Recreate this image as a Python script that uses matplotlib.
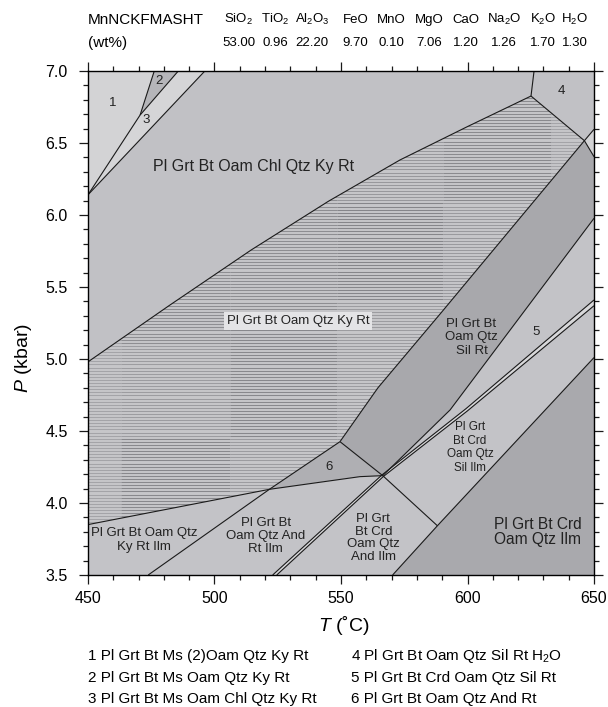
import numpy as np
import matplotlib
matplotlib.use("Agg")
import matplotlib.pyplot as plt
from matplotlib.patches import Polygon
from matplotlib.ticker import MultipleLocator
import matplotlib.transforms as mtransforms

plt.rcParams['font.family'] = ['Liberation Sans', 'DejaVu Sans']
plt.rcParams['mathtext.fontset'] = 'custom'
plt.rcParams['mathtext.rm'] = 'Liberation Sans'
plt.rcParams['mathtext.it'] = 'Liberation Sans:italic'

# --- bulk composition (wt%)
oxides = ['SiO$_2$', 'TiO$_2$', 'Al$_2$O$_3$', 'FeO', 'MnO', 'MgO', 'CaO', 'Na$_2$O', 'K$_2$O', 'H$_2$O']
wt = ['53.00', '0.96', '22.20', '9.70', '0.10', '7.06', '1.20', '1.26', '1.70', '1.30']
oxide_T = [509.5, 523.9, 538.5, 555.8, 569.9, 584.8, 599.3, 614.4, 629.8, 642.3]

# --- field boundary nodes (T degC, P kbar)
A = (450.0, 6.14)
B = (470.6, 6.694)
top_12 = (476.2, 7.0)
top_23 = (485.7, 7.0)
top_3 = (496.2, 7.0)
D = (625.1, 6.826)
top_4 = (626.3, 7.0)
E = (646.2, 6.516)
G = (549.6, 4.426)
H = (521.7, 4.095)
J = (566.5, 4.19)
K = (588.1, 3.842)

ky_upper = [(450.0, 4.98), (482.0, 5.37), (514.5, 5.757), (545.0, 6.095), (573.3, 6.382), (600.0, 6.614), D]
sil_ky = [G, (564.6, 4.80), (590.0, 5.33), (616.8, 5.896), E]
sil_ky_end = (650.0, 6.595)
de_end = (650.0, 6.405)
ilm_line = [(450.0, 3.85), H, (557.5, 4.183), J]
and_ky = [(473.8, 3.5), H, G]
and_sil = [G, J, K]
dbl_a = [(523.0, 3.5), (566.2, 4.195), (599.4, 4.655), (650.0, 5.41)]
dbl_b = [(524.6, 3.5), (566.8, 4.185), (600.0, 4.64), (650.0, 5.37)]
crd_upper = [J, (593.1, 4.646), (620.0, 5.275), (650.0, 5.977)]
crd_ilm = [(570.4, 3.5), K, (650.0, 5.01)]

legend_left = ['1 Pl Grt Bt Ms (2)Oam Qtz Ky Rt', '2 Pl Grt Bt Ms Oam Qtz Ky Rt', '3 Pl Grt Bt Ms Oam Chl Qtz Ky Rt']
legend_right = ['4 Pl Grt Bt Oam Qtz Sil Rt H$_2$O', '5 Pl Grt Bt Crd Oam Qtz Sil Rt', '6 Pl Grt Bt Oam Qtz And Rt']


def poly(*parts):
    pts = []
    for p in parts:
        if isinstance(p, tuple):
            pts.append(p)
        else:
            pts.extend(p)
    return np.array(pts)


def rev(l):
    return l[::-1]


fig = plt.figure(figsize=(6.08, 7.07), dpi=100)
ax = fig.add_axes([0.1447, 0.1867, 0.8323, 0.7129])
ax.set_xlim(450, 650)
ax.set_ylim(3.5, 7.0)
ax.set_facecolor('#d8d8da')

fields = [
    (poly(ky_upper[0], A, top_3, top_4, rev(ky_upper)), '#c1c1c5'),
    (poly((450.0, 7.0), A, B, top_12), '#d3d3d5'),
    (poly(B, top_12, top_23), '#b5b5b9'),
    (poly(A, B, top_23, top_3), '#d5d5d7'),
    (poly(top_4, (650.0, 7.0), sil_ky_end, E, D), '#c1c1c5'),
    (poly(E, sil_ky_end, de_end), '#d3d3d5'),
    (poly(sil_ky, de_end, rev(crd_upper)), '#a8a8ac'),
    (poly(H, G, J, (557.5, 4.183)), '#afafb3'),
    (poly(crd_upper, rev(dbl_a[1:])), '#c3c3c7'),
    (poly(dbl_b[1:], rev(crd_ilm)[:2], J), '#c3c3c7'),
    (poly(dbl_b[:2], J, K, crd_ilm[0]), '#c3c3c7'),
    (poly(crd_ilm, (650.0, 3.5)), '#a9a9ad'),
    (poly(and_ky[0], H, (557.5, 4.183), J, rev(dbl_a[:2])), '#c3c3c7'),
    (poly((450.0, 3.5), ilm_line[0], H, and_ky[0]), '#c3c3c7'),
]
for pts, c in fields:
    ax.add_patch(Polygon(pts, closed=True, facecolor=c, edgecolor='none', zorder=1))

# kyanite field with the striped fill
ky_pts = poly(ilm_line[:2], sil_ky, rev(ky_upper))
ky_patch = Polygon(ky_pts, closed=True, facecolor='#c6c6c9', edgecolor='none', zorder=1)
ax.add_patch(ky_patch)

tiles = [
    (450, 463, 3.5, 7.0, '#a4a4a8'),
    (463, 506, 3.5, 4.45, '#88888c'), (463, 506, 4.45, 5.1, '#9c9ca0'), (463, 506, 5.1, 7.0, '#8e8e92'),
    (506, 548.5, 3.5, 4.45, '#9c9ca0'), (506, 548.5, 4.45, 5.25, '#88888c'), (506, 548.5, 5.25, 7.0, '#8e8e92'),
    (548.5, 590.5, 3.5, 5.4, '#9c9ca0'), (548.5, 590.5, 5.4, 6.1, '#86868a'), (548.5, 590.5, 6.1, 7.0, '#98989c'),
    (590.5, 633, 3.5, 6.1, '#9a9a9e'), (590.5, 633, 6.1, 7.0, '#8a8a8e'),
    (633, 650, 3.5, 7.0, '#a4a4a8'),
]
rows = np.arange(3.5, 7.0, 0.0215)
for t0, t1, p0, p1, c in tiles:
    r = rows[(rows >= p0) & (rows < p1)]
    lc = ax.hlines(r, t0, t1, colors=c, lw=0.75, zorder=2)
    lc.set_clip_path(ky_patch)

lines = [
    [A, B], [B, top_12], [B, top_23], [A, top_3], ky_upper, [D, top_4],
    [D, E, de_end], sil_ky + [sil_ky_end], ilm_line, and_ky, and_sil,
    dbl_a, dbl_b, crd_upper, crd_ilm,
]
for ln in lines:
    arr = np.array(ln)
    ax.plot(arr[:, 0], arr[:, 1], color='#1a1a1a', lw=0.8, zorder=3, solid_capstyle='butt')

# field labels
lab = dict(ha='center', va='center', color='#222222', zorder=4)
ax.text(459.8, 6.78, '1', fontsize=9.5, **lab)
ax.text(477.9, 6.93, '2', fontsize=9.5, **lab)
ax.text(472.9, 6.66, '3', fontsize=9.5, **lab)
ax.text(637.2, 6.86, '4', fontsize=9.5, **lab)
ax.text(627.0, 5.185, '5', fontsize=9.5, **lab)
ax.text(545.4, 4.252, '6', fontsize=9.5, **lab)
ax.text(475.8, 6.34, 'Pl Grt Bt Oam Chl Qtz Ky Rt', fontsize=11.5, ha='left', va='center',
        color='#222222', zorder=4)
ax.text(533.0, 5.265, 'Pl Grt Bt Oam Qtz Ky Rt', fontsize=9.5,
        bbox=dict(facecolor='#e4e4e6', edgecolor='none', pad=2.0), **lab)
ax.text(601.6, 5.15, 'Pl Grt Bt\nOam Qtz\nSil Rt', fontsize=9.5, linespacing=1.2, **lab)
ax.text(601.0, 4.385, 'Pl Grt\nBt Crd\nOam Qtz\nSil Ilm', fontsize=8.5, linespacing=1.2, **lab)
ax.text(562.8, 3.757, 'Pl Grt\nBt Crd\nOam Qtz\nAnd Ilm', fontsize=9.5, linespacing=1.1, **lab)
ax.text(627.6, 3.80, 'Pl Grt Bt Crd\nOam Qtz Ilm', fontsize=11.2, linespacing=1.0, **lab)
ax.text(520.2, 3.771, 'Pl Grt Bt\nOam Qtz And\nRt Ilm', fontsize=9.5, linespacing=1.15, **lab)
ax.text(472.3, 3.743, 'Pl Grt Bt Oam Qtz\nKy Rt Ilm', fontsize=9.5, linespacing=1.15, **lab)

# axes styling
ax.xaxis.set_major_locator(MultipleLocator(50))
ax.xaxis.set_minor_locator(MultipleLocator(10))
ax.yaxis.set_major_locator(MultipleLocator(0.5))
ax.yaxis.set_minor_locator(MultipleLocator(0.1))
ax.yaxis.set_major_formatter(matplotlib.ticker.FormatStrFormatter('%.1f'))
ax.tick_params(which='both', direction='out', top=True, right=True, width=0.9, color='#1a1a1a')
ax.tick_params(which='major', length=6.5, labelsize=11.5)
ax.tick_params(which='minor', length=3.6)
ax.tick_params(axis='x', which='major', pad=5)
ax.tick_params(axis='y', which='major', pad=8)
for s in ax.spines.values():
    s.set_linewidth(1.0)
    s.set_zorder(5)

ax.set_xlabel('$T$ (˚C)', fontsize=14)
ax.xaxis.set_label_coords(0.505, -0.078)
ax.set_ylabel('$P$ (kbar)', fontsize=14)
ax.yaxis.set_label_coords(-0.107, 0.43)

# composition header
hdr = mtransforms.blended_transform_factory(ax.transData, fig.transFigure)
fig.text(0.1447, 0.972, 'MnNCKFMASHT', fontsize=11, ha='left', va='center')
fig.text(0.1447, 0.939, '(wt%)', fontsize=11, ha='left', va='center')
for t, ox, v in zip(oxide_T, oxides, wt):
    ax.text(t, 0.972, ox, fontsize=9.5, ha='center', va='center', transform=hdr)
    ax.text(t, 0.939, v, fontsize=9.5, ha='center', va='center', transform=hdr)

# assemblage key
for i, (l, r) in enumerate(zip(legend_left, legend_right)):
    y = 0.0721 - i * 0.0307
    fig.text(0.1447, y, l, fontsize=11, ha='left', va='center')
    fig.text(0.577, y, r, fontsize=11, ha='left', va='center')

fig.savefig('out.png', dpi=100)
